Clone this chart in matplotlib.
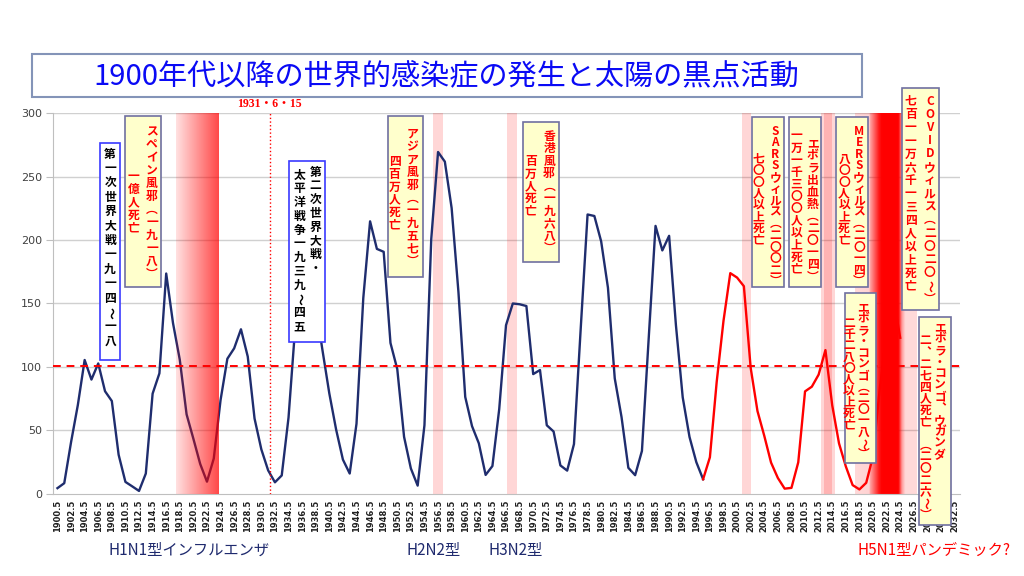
import matplotlib
matplotlib.use("Agg")
import matplotlib.pyplot as plt
import matplotlib.patches as mpatches
import numpy as np

# ── Data ──────────────────────────────────────────────────────────────────────
# yearly mean sunspot numbers, as plotted on the category axis (1900.5 ...)
years = np.arange(1900.5, 2025.0, 1.0)
sunspots = [
    4.6, 8.5, 40.8, 70.1, 105.5, 90.1, 102.8, 80.9, 73.2, 30.9,
    9.5, 6.0, 2.4, 16.1, 79.0, 95.0, 173.6, 134.6, 105.7, 62.7,
    43.5, 23.7, 9.7, 27.9, 74.0, 106.5, 114.7, 129.7, 108.2, 59.4,
    35.1, 18.6, 9.2, 14.6, 60.2, 132.8, 190.6, 182.6, 148.0, 113.0,
    79.2, 50.8, 27.1, 16.1, 55.3, 154.3, 214.7, 193.0, 190.7, 118.9,
    98.3, 45.0, 20.1, 6.6, 54.2, 200.7, 269.3, 261.7, 225.1, 159.0,
    76.4, 53.4, 39.9, 15.0, 22.0, 66.8, 132.9, 150.0, 149.4, 148.0,
    94.4, 97.6, 54.1, 49.2, 22.5, 18.4, 39.3, 131.0, 220.1, 218.9,
    198.9, 162.4, 91.0, 60.5, 20.6, 14.8, 33.9, 123.0, 211.1, 191.8,
    203.3, 133.0, 76.1, 44.9, 25.1, 11.6, 28.9, 88.3, 136.3, 173.9,
    170.4, 163.6, 99.3, 65.3, 45.8, 24.7, 12.6, 4.2, 4.8, 24.9,
    80.8, 84.5, 94.0, 113.3, 69.8, 39.8, 21.7, 7.0, 3.6, 8.8,
    29.6, 83.2, 125.5, 154.6, 123.0,
]
split_year = 1995.5          # navy before, red after
reference_level = 101
marker_year = 1931.7
marker_label = "1931・6・15"

tick_years = np.arange(1900.5, 2033.0, 2.0)
y_ticks = [0, 50, 100, 150, 200, 250, 300]

title = "1900年代以降の世界的感染症の発生と太陽の黒点活動"

pale_bands = [(1955.8, 1957.3), (1966.6, 1968.1), (2001.2, 2002.5),
              (2012.9, 2014.9), (2013.3, 2014.4)]
spanish_band = (1917.9, 1924.1)
covid_band = (2017.8, 2026.9)

bottom_labels = [
    ("H1N1型インフルエンザ", "#1F2A6E"),
    ("H2N2型", "#1F2A6E"),
    ("H3N2型", "#1F2A6E"),
    ("H5N1型パンデミック?", "#FF0000"),
]

# ── Style ─────────────────────────────────────────────────────────────────────
NAVY = "#1F2D6E"
RED = "#FF0000"
CJK = ["Noto Sans CJK JP", "DejaVu Sans"]
YELLOW = "#FFFFCC"
VERTICAL_FORMS = {"（": "︵", "）": "︶", "、": "︑"}
ROTATE = "～"

# boxes: (x0, x1, y_bottom, y_top, face, edge, pitch_px, columns)
# columns: (x_center, first char y, text, colour)
boxes = [
    (1906.8, 1909.7, 105.5, 276.4, "white", "#3A3AFF", 14.4, [
        (1908.25, 267.7, "第一次世界大戦一九一四～一八", "black")]),
    (1910.5, 1915.8, 163.0, 297.6, YELLOW, "#7070A0", 13.0, [
        (1914.4, 285.4, "スペイン風邪（一九一八）", RED),
        (1911.7, 250.0, "一億人死亡", RED)]),
    (1934.6, 1939.9, 119.7, 262.2, "white", "#3A3AFF", 13.8, [
        (1938.5, 253.5, "第二次世界大戦・", "black"),
        (1936.1, 251.2, "太平洋戦争一九三九～四五", "black")]),
    (1949.1, 1954.3, 170.9, 297.6, YELLOW, "#7070A0", 12.7, [
        (1952.7, 283.1, "アジア風邪（一九五七）", RED),
        (1950.1, 261.8, "四百万人死亡", RED)]),
    (1969.0, 1974.3, 182.7, 292.9, YELLOW, "#7070A0", 12.4, [
        (1972.85, 281.5, "香港風邪（一九六八）", RED),
        (1970.15, 261.8, "百万人死亡", RED)]),
    (2002.7, 2007.4, 162.8, 297.1, YELLOW, "#7070A0", 11.6, [
        (2006.1, 285.8, "SARSウィルス（二〇〇二）", RED),
        (2003.65, 263.8, "七〇〇人以上死亡", RED)]),
    (2008.2, 2012.9, 162.8, 297.1, YELLOW, "#7070A0", 12.1, [
        (2011.65, 275.6, "エボラ出血熱（二〇一四）", RED),
        (2009.2, 281.9, "一万一千三〇〇人以上死亡", RED)]),
    (2015.0, 2019.7, 162.8, 297.1, YELLOW, "#7070A0", 11.6, [
        (2018.45, 285.8, "MERSウィルス（二〇一四）", RED),
        (2016.25, 263.8, "八〇〇人以上死亡", RED)]),
    (2016.4, 2020.9, 24.2, 158.0, YELLOW, "#7070A0", 11.3, [
        (2019.05, 146.5, "エボラ・コンゴ（二〇一八～）", RED),
        (2016.95, 134.6, "二千二八〇人以上死亡", RED)]),
    (2024.8, 2030.2, 144.9, 319.4, YELLOW, "#7070A0", 13.2, [
        (2028.85, 309.4, "COVIDウィルス（二〇二〇～）", RED),
        (2026.05, 309.1, "七百一一万六千一三四人以上死亡", RED)]),
    (2027.25, 2031.95, -24.4, 139.6, YELLOW, "#7070A0", 11.6, [
        (2030.35, 131.1, "エボラ・コンゴ、ウガンダ", RED),
        (2028.2, 120.5, "二、二七四人死亡　（二〇二六～）", RED)]),
]


def gradient_band(ax, x0, x1, xs, alphas, zorder):
    n = 300
    grid = np.linspace(x0, x1, n)
    rgba = np.zeros((1, n, 4))
    rgba[..., 0] = 1.0
    rgba[..., 3] = np.interp(grid, xs, alphas)
    ax.imshow(rgba, extent=(x0, x1, 0, 300), aspect="auto",
              interpolation="bilinear", zorder=zorder)


def vertical_text(ax, x, y, text, colour, pitch_pt, size=8.5):
    for i, ch in enumerate(text):
        ax.annotate(VERTICAL_FORMS.get(ch, ch), (x, y), xytext=(0, -i * pitch_pt),
                    textcoords="offset points", ha="center", va="center",
                    rotation=-90 if ch in ROTATE else 0,
                    color=colour, fontsize=size, fontfamily=CJK,
                    fontweight="bold", annotation_clip=False, zorder=8)


fig = plt.figure(figsize=(10.24, 5.76), dpi=100, facecolor="white")
ax = fig.add_axes([0.0518, 0.1424, 0.8857, 0.6614])

# title box
fig.patches.append(mpatches.Rectangle(
    (0.0312, 0.8316), 0.8106, 0.0747, transform=fig.transFigure,
    facecolor="white", edgecolor="#8494B8", linewidth=1.5))
fig.text(0.4355, 0.8665, title, ha="center", va="center", fontsize=21,
         color="#0A0AF5", fontfamily=CJK)

# grid
for v in y_ticks[1:]:
    ax.axhline(v, color="#D0D0D0", linewidth=1, zorder=0)

# pale bands
for a, b in pale_bands:
    ax.axvspan(a, b, color=RED, alpha=0.16, linewidth=0, zorder=1)

gradient_band(ax, *covid_band,
              [2017.8, 2019.9, 2020.0, 2021.3, 2021.7, 2024.2, 2024.7, 2025.2, 2026.9],
              [0.15, 0.18, 0.35, 0.9, 1.0, 1.0, 0.4, 0.15, 0.15], zorder=1.5)

# sunspot line
yrs = np.asarray(years)
vals = np.asarray(sunspots)
old = yrs <= split_year
new = yrs >= split_year
ax.plot(yrs[old], vals[old], color=NAVY, linewidth=1.7, zorder=3)
ax.plot(yrs[new], vals[new], color=RED, linewidth=1.7, zorder=3)

gradient_band(ax, *spanish_band, list(spanish_band), [0.12, 0.72], zorder=4)

# reference lines
ax.axhline(reference_level, color=RED, linestyle=(0, (4, 3)), linewidth=1.4, zorder=4)
ax.axvline(marker_year, ymax=1.0, color=RED, linestyle=":", linewidth=1, zorder=4)
ax.text(marker_year, 302.5, marker_label, ha="center", va="bottom", color=RED,
        fontsize=8.5, fontweight="bold",
        fontfamily=["Liberation Serif", "Noto Sans CJK JP"], clip_on=False)

# annotation boxes
for x0, x1, y0, y1, face, edge, pitch, cols in boxes:
    ax.add_patch(mpatches.Rectangle((x0, y0), x1 - x0, y1 - y0, facecolor=face,
                                    edgecolor=edge, linewidth=1.2, zorder=6,
                                    clip_on=False))
    for cx, cy, txt, col in cols:
        vertical_text(ax, cx, cy, txt, col, pitch * 0.72)

# axes
ax.set_xlim(1899.85, 2033.3)
ax.set_ylim(0, 300)
ax.set_yticks(y_ticks)
ax.set_xticks(tick_years)
ax.set_xticklabels([f"{t:.1f}" for t in tick_years], rotation=90,
                   fontsize=6, fontweight="bold", color="#202020")
ax.tick_params(axis="x", length=0, pad=4)
ax.tick_params(axis="y", length=5, color="#BFBFBF", labelsize=8,
               labelcolor="#404040", pad=3)
for side in ("top", "right"):
    ax.spines[side].set_visible(False)
for side in ("left", "bottom"):
    ax.spines[side].set_color("#BFBFBF")

# subtype labels under the chart
label_x = [0.1064, 0.3965, 0.4775, 0.837]
for (txt, col), lx in zip(bottom_labels, label_x):
    fig.text(lx, 0.045, txt, ha="left", va="center", fontsize=11,
             color=col, fontfamily=CJK)

fig.savefig("out.png", dpi=100, facecolor="white")
